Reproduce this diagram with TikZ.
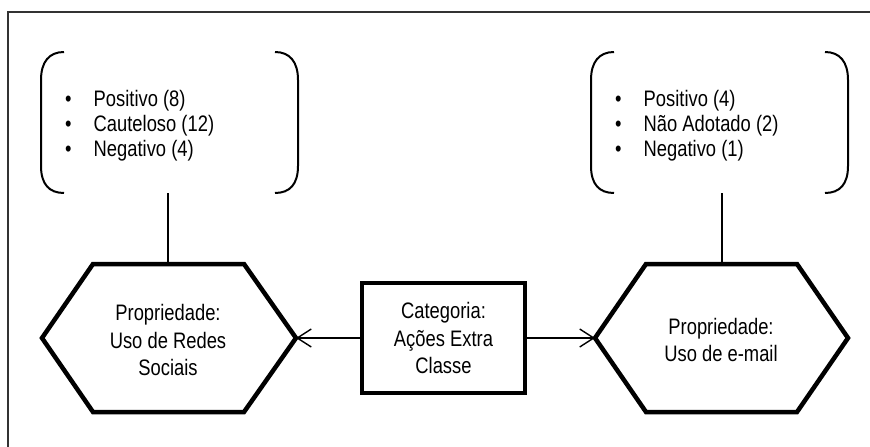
\documentclass[tikz,border=0pt]{standalone}
\usepackage{fontspec}
\setmainfont{Liberation Sans}[FakeStretch=0.82]
\usetikzlibrary{arrows.meta}
\begin{document}
\begin{tikzpicture}[x=1pt,y=-1pt,
  txt/.style={font=\fontsize{22.4}{27.3}\selectfont, inner sep=0pt, align=center},
  itm/.style={font=\fontsize{22.4}{25}\selectfont, inner sep=0pt, anchor=base west},
  frame/.style={draw=black!80, line width=1.5pt},
  brk/.style={draw=black, line width=2pt},
  heavy/.style={draw=black, line width=4.5pt, line join=miter},
  catbox/.style={draw=black, line width=4pt, minimum width=163pt, minimum height=110pt, txt},
  conn/.style={draw=black, line width=1.4pt},
  arr/.style={conn, -{Straight Barb[length=14pt,width=18pt,line width=1.4pt]}}
]
\useasboundingbox (0,0) rectangle (870,447);
% outer frame (top and left visible)
\draw[frame] (8,447) -- (8,12) -- (870,12);

% left bracket box
\draw[brk] (64,52) .. controls (49,52) and (41,62) .. (41,80) -- (41,166) .. controls (41,184) and (49,193) .. (64,193);
\draw[brk] (275,52) .. controls (290,52) and (298,62) .. (298,80) -- (298,166) .. controls (298,184) and (290,193) .. (275,193);
\node[itm] (lb1) at (65,106) {•};
\node[itm] (lt1) at (93.5,106) {Positivo (8)};
\node[itm] (lb2) at (65,131) {•};
\node[itm] (lt2) at (93.5,131) {Cauteloso (12)};
\node[itm] (lb3) at (65,156) {•};
\node[itm] (lt3) at (93.5,156) {Negativo (4)};
\coordinate (LB) at (168,193);

% right bracket box
\draw[brk] (614,52) .. controls (599,52) and (591,62) .. (591,80) -- (591,166) .. controls (591,184) and (599,193) .. (614,193);
\draw[brk] (825,52) .. controls (840,52) and (848,62) .. (848,80) -- (848,166) .. controls (848,184) and (840,193) .. (825,193);
\node[itm] (rb1) at (615,106) {•};
\node[itm] (rt1) at (643.5,106) {Positivo (4)};
\node[itm] (rb2) at (615,131) {•};
\node[itm] (rt2) at (643.5,131) {Não Adotado (2)};
\node[itm] (rb3) at (615,156) {•};
\node[itm] (rt3) at (643.5,156) {Negativo (1)};
\coordinate (RB) at (722,193);

% left hexagon
\coordinate (LHl) at (42,338);
\coordinate (LHr) at (296,338);
\coordinate (LHt) at (168,264);
\draw[heavy] (LHl) -- (93,264) -- (244,264) -- (LHr) -- (244,412) -- (93,412) -- cycle;
\node[txt] (LH) at (168,340) {Propriedade:\\Uso de Redes\\Sociais};

% right hexagon
\coordinate (RHl) at (595,338);
\coordinate (RHr) at (848,338);
\coordinate (RHt) at (722,264);
\draw[heavy] (RHl) -- (646,264) -- (797,264) -- (RHr) -- (797,412) -- (646,412) -- cycle;
\node[txt] (RH) at (721,340) {Propriedade:\\Uso de e-mail};

% category box
\node[catbox] (CB) at (443.5,338) {Categoria:\\Ações Extra\\Classe};

% connectors
\draw[conn] (LB) -- (LHt);
\draw[conn] (RB) -- (RHt);
\draw[arr] (CB.west) -- (LHr);
\draw[arr] (CB.east) -- (RHl);
\end{tikzpicture}
\end{document}
